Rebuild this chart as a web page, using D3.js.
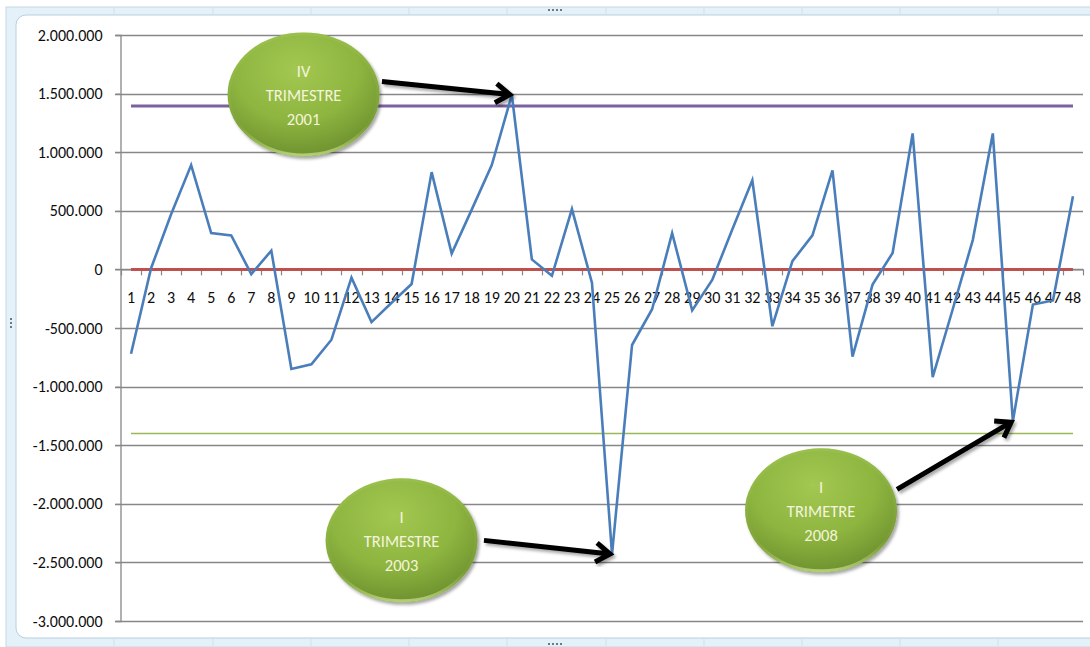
<!DOCTYPE html>
<meta charset="utf-8">
<style>
    body { margin: 0; background: #fff; }
    svg { display: block; }
    .axis text { font: 16px Carlito, Lato, sans-serif; fill: #0d0d0d; }
    .bubble text { font: 16.5px Carlito, Lato, sans-serif; fill: #f4f4dc; }
</style>
<svg width="1090" height="647"></svg>
<script src="https://cdn.jsdelivr.net/npm/d3@7"></script>
<script>

// quarters 1..48, values
var categories = d3.range(1, 49).map(String);
var values = [-720000, 10000, 470000, 890000, 310000, 290000, -40000, 160000,
              -850000, -810000, -600000, -70000, -450000, -285000, -125000, 830000,
              135000, 510000, 890000, 1490000, 85000, -55000, 515000, -115000,
              -2430000, -645000, -340000, 310000, -350000, -90000, 340000, 760000,
              -485000, 70000, 290000, 845000, -745000, -130000, 140000, 1160000,
              -920000, -340000, 250000, 1160000, -1295000, -300000, -265000, 625000];
var yTicks = [2000000, 1500000, 1000000, 500000, 0, -500000, -1000000,
              -1500000, -2000000, -2500000, -3000000];
var centerLine = 0, upperLimit = 1395000, lowerLimit = -1400000;

// callouts: target quarter, bubble centre and arrow start (quarter, value)
var notes = [
  {lines: ["IV", "TRIMESTRE", "2001"], target: 20, cx: 9.61, cy: 1493000, from: [13.52, 1604000]},
  {lines: ["I", "TRIMESTRE", "2003"], target: 25, cx: 14.5, cy: -2312000, from: [18.61, -2312000]},
  {lines: ["I", "TRIMETRE", "2008"], target: 45, cx: 35.43, cy: -2056000, from: [39.22, -1877000]}
];

var svg = d3.select("svg"),
    W = +svg.attr("width"), H = +svg.attr("height");

var defs = svg.append("defs");
var f = defs.append("filter").attr("id", "shadow")
    .attr("x", "-20%").attr("y", "-20%").attr("width", "140%").attr("height", "140%");
f.append("feDropShadow").attr("dx", 2).attr("dy", 2.5).attr("stdDeviation", 1.8)
    .attr("flood-color", "#000").attr("flood-opacity", 0.35);

var rg = defs.append("radialGradient").attr("id", "bubbleFill")
    .attr("cx", "45%").attr("cy", "30%").attr("r", "75%");
rg.append("stop").attr("offset", "0%").attr("stop-color", "#a3c852");
rg.append("stop").attr("offset", "55%").attr("stop-color", "#8db53f");
rg.append("stop").attr("offset", "100%").attr("stop-color", "#6a8c2d");

var rim = defs.append("linearGradient").attr("id", "bubbleRim")
    .attr("x1", 0).attr("y1", 0).attr("x2", 0).attr("y2", 1);
rim.append("stop").attr("offset", "0%").attr("stop-color", "#b9d778").attr("stop-opacity", 0.15);
rim.append("stop").attr("offset", "75%").attr("stop-color", "#a6c95c").attr("stop-opacity", 0.1);
rim.append("stop").attr("offset", "100%").attr("stop-color", "#c2dc86").attr("stop-opacity", 0.8);

// excel selection frame round the chart
svg.append("rect").attr("x", 6).attr("y", 7).attr("width", W + 10).attr("height", H - 7)
    .attr("fill", "#e4f1f8").attr("stroke", "#c3d9e6");
svg.append("rect").attr("x", 16).attr("y", 15).attr("width", W + 10).attr("height", 623)
    .attr("rx", 10).attr("fill", "#fff").attr("stroke", "#b7cfdf");
[114, 213, 311, 409, 507, 606, 704, 802, 900, 998].forEach(function(px) {
  svg.append("line").attr("x1", px).attr("x2", px).attr("y1", 8).attr("y2", 14).attr("stroke", "#cfe1ec");
  svg.append("line").attr("x1", px).attr("x2", px).attr("y1", 639).attr("y2", 646).attr("stroke", "#cfe1ec");
});
[[548, 9], [552, 9], [556, 9], [560, 9], [548, 643], [552, 643], [556, 643], [560, 643],
 [10, 318], [10, 322], [10, 326]].forEach(function(p) {
  svg.append("rect").attr("x", p[0]).attr("y", p[1]).attr("width", 2).attr("height", 2).attr("fill", "#6d7a85");
});

var x = d3.scaleBand().domain(categories).range([121, 1083]).paddingInner(0).paddingOuter(0),
    y = d3.scaleLinear().domain([-3000000, 2000000]).range([621, 35]);
var xc = function(c) { return x(String(c)) + x.bandwidth() / 2; };
var xLin = d3.scaleLinear().domain([1, 48]).range([xc(1), xc(48)]); // for callout placement

var loc = d3.formatLocale({decimal: ",", thousands: ".", grouping: [3], currency: ["", ""], minus: "-"});
var fmt = loc.format(",d");

var gridColor = "#878787";

// gridlines
svg.append("g").selectAll("line").data(yTicks).enter().append("line")
    .attr("x1", 115).attr("x2", 1083)
    .attr("y1", function(d) { return Math.round(y(d)) + 0.5; })
    .attr("y2", function(d) { return Math.round(y(d)) + 0.5; })
    .attr("stroke", gridColor).attr("stroke-width", 1.3);

// y axis
var yAxis = svg.append("g").attr("class", "axis")
    .attr("transform", "translate(120.5,0)")
    .call(d3.axisLeft(y).tickValues(yTicks).tickFormat(fmt).tickSize(5).tickPadding(13));
yAxis.select(".domain").attr("stroke", gridColor).attr("stroke-width", 1.3);
yAxis.selectAll(".tick line").attr("stroke", gridColor);

// x axis at zero, labels only; Excel style ticks between categories
var xAxis = svg.append("g").attr("class", "axis")
    .attr("transform", "translate(0," + y(0) + ")")
    .call(d3.axisBottom(x).tickSize(0).tickPadding(22));
xAxis.select(".domain").attr("stroke", gridColor).attr("stroke-width", 1.3);
svg.append("g").selectAll("line").data(categories.concat(["end"])).enter().append("line")
    .attr("x1", function(d, i) { return Math.round(121 + i * x.bandwidth()) + 0.5; })
    .attr("x2", function(d, i) { return Math.round(121 + i * x.bandwidth()) + 0.5; })
    .attr("y1", y(0)).attr("y2", y(0) + 6)
    .attr("stroke", gridColor).attr("stroke-width", 1.2);

// control lines
var flat = function(v) {
  return d3.line().x(function(c) { return xc(c); }).y(function() { return y(v); })(categories);
};
svg.append("path").attr("d", flat(lowerLimit)).attr("fill", "none").attr("stroke", "#98b954").attr("stroke-width", 1.6);
svg.append("path").attr("d", flat(upperLimit)).attr("fill", "none").attr("stroke", "#7d60a0").attr("stroke-width", 3);
svg.append("path").attr("d", flat(centerLine)).attr("fill", "none").attr("stroke", "#c0504d").attr("stroke-width", 3);

// data series
var line = d3.line()
    .x(function(d, i) { return xc(categories[i]); })
    .y(function(d) { return y(d); });
svg.append("path").datum(values).attr("d", line)
    .attr("fill", "none").attr("stroke", "#4a7ebb").attr("stroke-width", 2.6)
    .attr("stroke-linejoin", "miter");

// callouts
notes.forEach(function(n) {
  var tx = xc(n.target), ty = y(values[n.target - 1]);
  var sx = xLin(n.from[0]), sy = y(n.from[1]);
  var a = Math.atan2(ty - sy, tx - sx);
  var ex = tx - 2 * Math.cos(a), ey = ty - 2 * Math.sin(a);
  var hl = 17, sp = 0.6;
  var p = d3.path();
  p.moveTo(sx, sy); p.lineTo(ex, ey);
  p.moveTo(ex - hl * Math.cos(a - sp), ey - hl * Math.sin(a - sp));
  p.lineTo(ex, ey);
  p.lineTo(ex - hl * Math.cos(a + sp), ey - hl * Math.sin(a + sp));
  svg.append("path").attr("d", p.toString()).attr("fill", "none")
      .attr("stroke", "#000").attr("stroke-width", 5)
      .attr("stroke-linejoin", "miter").attr("filter", "url(#shadow)");

  var b = svg.append("g").attr("class", "bubble")
      .attr("transform", "translate(" + xLin(n.cx) + "," + y(n.cy) + ")");
  b.append("ellipse").attr("rx", 76).attr("ry", 62)
      .attr("fill", "url(#bubbleFill)").attr("filter", "url(#shadow)");
  b.append("ellipse").attr("rx", 74.5).attr("ry", 60.5)
      .attr("fill", "none").attr("stroke", "url(#bubbleRim)").attr("stroke-width", 3);
  b.selectAll("text").data(n.lines).enter().append("text")
      .attr("text-anchor", "middle")
      .attr("y", function(d, i) { return -23 + i * 24; })
      .attr("dy", "0.35em")
      .text(function(d) { return d; });
});

</script>
